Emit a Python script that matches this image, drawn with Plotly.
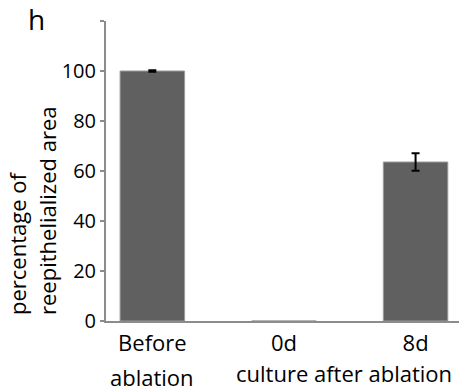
import plotly.graph_objects as go

categories = ["Before", "0d", "8d"]
values = [100.0, 0.0, 63.6]
errors = [0.3, 0.0, 3.5]
y_ticks = [0, 20, 40, 60, 80, 100, 120]
y_ticktext = ["0", "20", "40", "60", "80", "100", ""]

FONT = "Open Sans"
AX = "#8c8c8c"

xs = list(range(len(categories)))
fig = go.Figure()
fig.add_trace(go.Bar(
    x=xs, y=values, width=0.49,
    marker=dict(color="#606060", line=dict(color="#9a9a9a", width=1)),
    showlegend=False, hoverinfo="skip",
))
# error bars only where a bar is drawn
ex = [x for x, v, e in zip(xs, values, errors) if v > 0]
ey = [v for v, e in zip(values, errors) if v > 0]
ee = [e for v, e in zip(values, errors) if v > 0]
fig.add_trace(go.Scatter(
    x=ex, y=ey, mode="markers", marker=dict(size=1, opacity=0),
    error_y=dict(type="data", array=ee, visible=True, color="black", thickness=2, width=4),
    showlegend=False, hoverinfo="skip",
))

fig.update_layout(
    width=465, height=392,
    margin=dict(l=106, r=6, t=21, b=71),
    paper_bgcolor="white", plot_bgcolor="white",
    font=dict(family=FONT, color="black"),
    hovermode=False,
)
fig.update_xaxes(
    range=[-0.352, 2.33], automargin=False,
    tickmode="array", tickvals=xs, ticktext=categories,
    tickfont=dict(size=22, family=FONT, color="black"),
    ticklabelstandoff=2,
    showline=True, linecolor=AX, linewidth=2,
    ticks="", showgrid=False, zeroline=False,
)
fig.update_yaxes(
    range=[0, 120], automargin=False,
    tickmode="array", tickvals=y_ticks, ticktext=y_ticktext,
    tickfont=dict(size=20, family=FONT, color="black"),
    showline=True, linecolor=AX, linewidth=2,
    ticks="outside", ticklen=4, tickwidth=2, tickcolor=AX,
    showgrid=False, zeroline=False,
)

fig.add_annotation(text="h", xref="paper", yref="paper", x=(26 - 106) / 353, y=(321 + 2) / 300,
                   xanchor="left", yanchor="top", showarrow=False,
                   font=dict(size=28, family=FONT, color="black"))
fig.add_annotation(text="percentage of", xref="paper", yref="paper",
                   x=(17 - 106) / 353, y=(321 - 317) / 300, xanchor="center", yanchor="bottom",
                   textangle=-90, showarrow=False, font=dict(size=22, family=FONT, color="black"))
fig.add_annotation(text="reepithelialized area", xref="paper", yref="paper",
                   x=(47 - 106) / 353, y=(321 - 317) / 300, xanchor="center", yanchor="bottom",
                   textangle=-90, showarrow=False, font=dict(size=22, family=FONT, color="black"))
fig.add_annotation(text="ablation", xref="x", yref="paper",
                   x=0, y=(321 - 377) / 300, xanchor="center", yanchor="middle",
                   showarrow=False, font=dict(size=22, family=FONT, color="black"))
fig.add_annotation(text="culture after ablation", xref="paper", yref="paper",
                   x=(344 - 106) / 353, y=(321 - 373) / 300, xanchor="center", yanchor="middle",
                   showarrow=False, font=dict(size=22, family=FONT, color="black"))

fig.write_html("out.html", config={"displayModeBar": False},
               post_script="document.body.style.margin='0';")
